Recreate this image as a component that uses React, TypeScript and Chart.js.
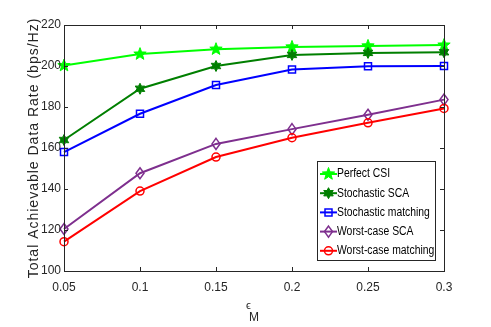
import React, { useEffect, useRef } from "react";
import { Chart, registerables } from "chart.js";

Chart.register(...registerables);

const categories = ["0.05", "0.1", "0.15", "0.2", "0.25", "0.3"];
const perfectCSI = [200.2, 205.8, 208.2, 209.3, 209.8, 210.2];
const stochasticSCA = [163.9, 188.9, 200.0, 205.4, 206.4, 206.7];
const stochasticMatching = [158.0, 176.7, 190.7, 198.3, 199.9, 200.0];
const worstCaseSCA = [120.5, 147.7, 162.0, 169.2, 176.2, 183.6];
const worstCaseMatching = [114.3, 139.0, 155.6, 165.0, 172.3, 179.3];
const seriesNames = ["Perfect CSI", "Stochastic SCA", "Stochastic matching", "Worst-case SCA", "Worst-case matching"];
const yTicks = [100, 120, 140, 160, 180, 200, 220];

const colors = ["#00ff00", "#007f00", "#0000ff", "#7e2f8e", "#ff0000"];
const markers = ["pentagram", "hexagram", "square", "diamond", "circle"];

const FONT = "'Liberation Sans', Arial, sans-serif";
const TEXT = "#262626";

function drawMarker(ctx: CanvasRenderingContext2D, kind: string, x: number, y: number, color: string) {
  ctx.save();
  ctx.strokeStyle = color;
  ctx.fillStyle = color;
  ctx.lineWidth = 1.5;
  ctx.beginPath();
  if (kind === "pentagram" || kind === "hexagram") {
    const n = kind === "pentagram" ? 5 : 6;
    const R = kind === "pentagram" ? 6.5 : 5.5;
    const r = kind === "pentagram" ? 2.7 : 3.0;
    for (let i = 0; i < n * 2; i++) {
      const a = -Math.PI / 2 + (i * Math.PI) / n;
      const rad = i % 2 === 0 ? R : r;
      const px = x + rad * Math.cos(a);
      const py = y + rad * Math.sin(a);
      if (i === 0) ctx.moveTo(px, py);
      else ctx.lineTo(px, py);
    }
    ctx.closePath();
    ctx.fill();
    ctx.lineWidth = 1;
    ctx.stroke();
  } else if (kind === "square") {
    ctx.rect(x - 3.5, y - 3.5, 7, 7);
    ctx.stroke();
  } else if (kind === "diamond") {
    ctx.moveTo(x, y - 5.5);
    ctx.lineTo(x + 4, y);
    ctx.lineTo(x, y + 5.5);
    ctx.lineTo(x - 4, y);
    ctx.closePath();
    ctx.stroke();
  } else {
    ctx.arc(x, y, 4, 0, Math.PI * 2);
    ctx.stroke();
  }
  ctx.restore();
}

const framePlugin = {
  id: "frame",
  afterDatasetsDraw(chart: any) {
    const ctx = chart.ctx as CanvasRenderingContext2D;
    const { left, right, top, bottom } = chart.chartArea;
    const xs = chart.scales.x;
    const ys = chart.scales.y;
    chart.data.datasets.forEach((ds: any, i: number) => {
      const meta = chart.getDatasetMeta(i);
      meta.data.forEach((pt: any) => drawMarker(ctx, markers[i], pt.x, pt.y, colors[i]));
    });
    ctx.save();
    ctx.strokeStyle = "#262626";
    ctx.lineWidth = 1;
    ctx.strokeRect(Math.round(left) + 0.5, Math.round(top) + 0.5, Math.round(right - left), Math.round(bottom - top));
    const tl = 4;
    ctx.beginPath();
    categories.forEach((_, i) => {
      const px = Math.round(xs.getPixelForValue(i)) + 0.5;
      ctx.moveTo(px, bottom);
      ctx.lineTo(px, bottom - tl);
      ctx.moveTo(px, top);
      ctx.lineTo(px, top + tl);
    });
    yTicks.forEach((v) => {
      const py = Math.round(ys.getPixelForValue(v)) + 0.5;
      ctx.moveTo(left, py);
      ctx.lineTo(left + tl, py);
      ctx.moveTo(right, py);
      ctx.lineTo(right - tl, py);
    });
    ctx.stroke();

    ctx.fillStyle = TEXT;
    ctx.font = `12px ${FONT}`;
    ctx.textAlign = "right";
    ctx.textBaseline = "middle";
    yTicks.forEach((v) => {
      ctx.fillText(String(v), left - 3, ys.getPixelForValue(v));
    });
    ctx.textAlign = "center";
    ctx.textBaseline = "top";
    categories.forEach((c, i) => {
      ctx.fillText(c, xs.getPixelForValue(i), bottom + 11);
    });

    ctx.save();
    ctx.translate(34, (top + bottom) / 2);
    ctx.rotate(-Math.PI / 2);
    ctx.font = `14px ${FONT}`;
    (ctx as any).letterSpacing = "1px";
    ctx.textAlign = "center";
    ctx.textBaseline = "middle";
    ctx.fillText("Total Achievable Data Rate (bps/Hz)", 0, 0);
    ctx.restore();

    ctx.textAlign = "left";
    ctx.textBaseline = "alphabetic";
    ctx.font = `11px ${FONT}`;
    ctx.fillText("\u03f5", 246, 309);
    ctx.font = `12px ${FONT}`;
    ctx.fillText("M", 249, 321);

    const lx = 317, ly = 161, lw = 118, lh = 99;
    ctx.fillStyle = "#ffffff";
    ctx.fillRect(lx, ly, lw, lh);
    ctx.strokeStyle = "#262626";
    ctx.strokeRect(lx + 0.5, ly + 0.5, lw, lh);
    ctx.font = `12.5px ${FONT}`;
    ctx.textBaseline = "middle";
    seriesNames.forEach((name, i) => {
      const yy = 174 + i * 19.2;
      ctx.strokeStyle = colors[i];
      ctx.lineWidth = 2;
      ctx.beginPath();
      ctx.moveTo(320, yy);
      ctx.lineTo(337, yy);
      ctx.stroke();
      drawMarker(ctx, markers[i], 328.5, yy, colors[i]);
      ctx.save();
      ctx.translate(337, yy);
      ctx.scale(0.83, 1);
      ctx.fillStyle = "#000000";
      ctx.fillText(name, 0, 0);
      ctx.restore();
    });
    ctx.restore();
  },
};

export default function App() {
  const ref = useRef<HTMLCanvasElement | null>(null);
  useEffect(() => {
    document.body.style.margin = "0";
    const seriesData = [perfectCSI, stochasticSCA, stochasticMatching, worstCaseSCA, worstCaseMatching];
    const chart = new Chart(ref.current as HTMLCanvasElement, {
      type: "line",
      data: {
        labels: categories,
        datasets: seriesData.map((d, i) => ({
          label: seriesNames[i],
          data: d,
          borderColor: colors[i],
          backgroundColor: colors[i],
          borderWidth: 2,
          pointRadius: 0,
          tension: 0,
          fill: false,
        })),
      },
      options: {
        animation: false,
        responsive: false,
        devicePixelRatio: 1,
        layout: { padding: { left: 0, top: 25, right: 47, bottom: 0 } },
        plugins: { legend: { display: false }, tooltip: { enabled: false } },
        scales: {
          x: {
            type: "category",
            offset: false,
            grid: { display: false, drawTicks: false },
            border: { display: false },
            ticks: { display: false },
            afterFit: (s: any) => { s.height = 56; },
          },
          y: {
            min: 100,
            max: 220,
            grid: { display: false, drawTicks: false },
            border: { display: false },
            ticks: { display: false, stepSize: 20 },
            afterFit: (s: any) => { s.width = 64; },
          },
        },
      },
      plugins: [framePlugin],
    } as any);
    return () => chart.destroy();
  }, []);
  return (
    <div style={{ width: 491, height: 327, background: "#fff" }}>
      <canvas ref={ref} width={491} height={327} style={{ display: "block" }} />
    </div>
  );
}
